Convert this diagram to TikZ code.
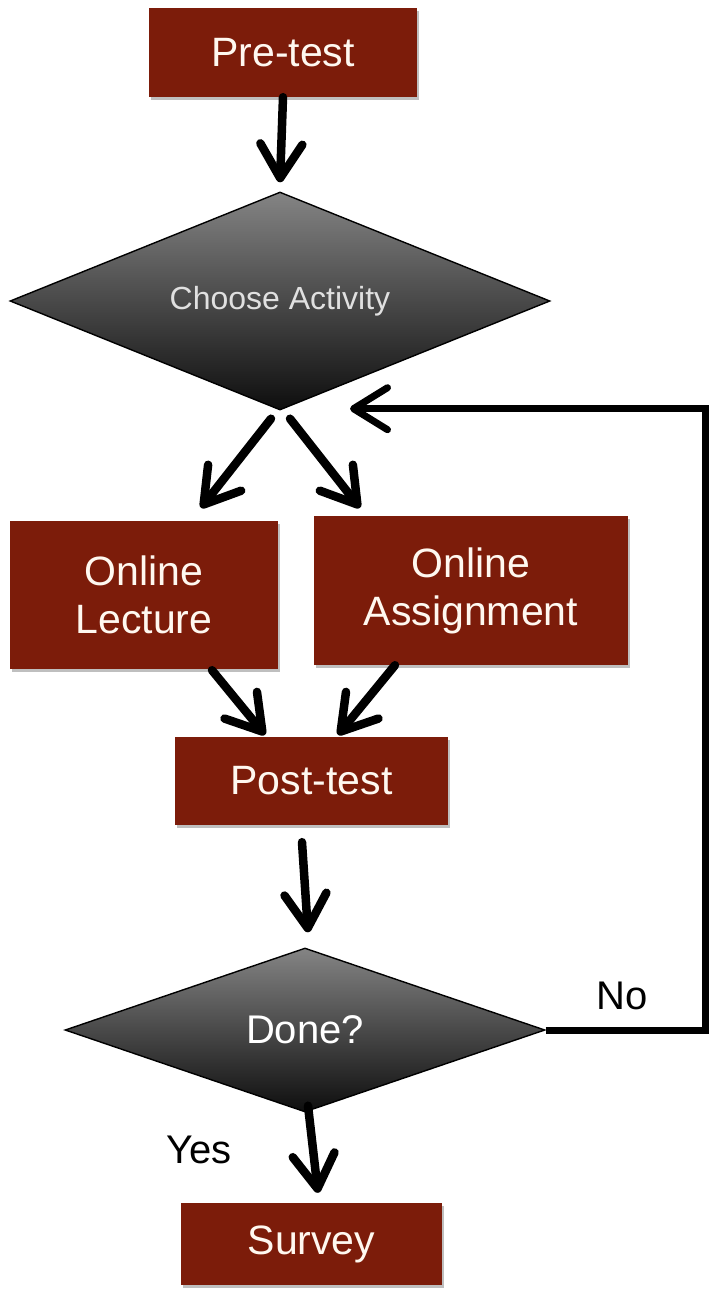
\documentclass[tikz,border=0pt]{standalone}
\usepackage{fontspec}
\setmainfont{Liberation Sans}
\usetikzlibrary{arrows.meta,shapes.geometric,shadows}
\definecolor{boxred}{RGB}{124,28,10}
\definecolor{boxtext}{RGB}{255,248,240}
\definecolor{dtop}{RGB}{132,132,132}
\definecolor{dbot}{RGB}{14,14,14}
\begin{document}
\begin{tikzpicture}[x=1pt,y=-1pt,
  stepbox/.style={rectangle, fill=boxred, text=boxtext, inner sep=0pt, align=center,
    font=\fontsize{41}{48}\selectfont,
    drop shadow={shadow xshift=2pt, shadow yshift=-3pt, opacity=0.25, fill=black}},
  decision/.style={diamond, draw=black, line width=1.4pt, top color=dtop, bottom color=dbot,
    inner sep=0pt, text=white, font=\fontsize{40}{46}\selectfont},
  arr/.style={line width=8.5pt, line cap=round, -{Straight Barb[length=34pt,width=42pt,round]}},
  fbline/.style={line width=7pt},
  lbl/.style={text=black, font=\fontsize{40}{46}\selectfont, inner sep=0pt}]
\useasboundingbox (0,0) rectangle (709,1291);
\fill[white] (0,0) rectangle (709,1291);

\node[stepbox, minimum width=268pt, minimum height=89pt] (pre) at (283,52.5) {Pre-test};
\node[decision, aspect=2.48, minimum width=540pt, minimum height=218pt,
      text=black!12, font=\fontsize{32}{38}\selectfont] (choose) at (280,301) {Choose Activity};
\node[stepbox, minimum width=268pt, minimum height=148pt] (lec) at (144,595) {Online\\Lecture};
\node[stepbox, minimum width=314pt, minimum height=149pt] (asg) at (471,590.5) {Online\\Assignment};
\node[stepbox, minimum width=273pt, minimum height=88pt] (post) at (311.5,781) {Post-test};
\node[decision, aspect=2.93, minimum width=480pt, minimum height=164pt] (done) at (305,1030) {Done?};
\node[stepbox, minimum width=261pt, minimum height=82pt] (survey) at (311.5,1244) {Survey};

\node[lbl] (no) at (622,996) {No};
\node[lbl] (yes) at (199,1150) {Yes};

\coordinate (fbx) at (705,0);

\draw[arr] (pre.south) -- ([yshift=9pt]choose.north);
\draw[arr] ([xshift=-9pt,yshift=-8pt]choose.south) -- ([xshift=57pt,yshift=13pt]lec.north);
\draw[arr] ([xshift=10pt,yshift=-8pt]choose.south) -- ([xshift=-111pt,yshift=8pt]asg.north);
\draw[arr] ([xshift=68pt,yshift=-1pt]lec.south) -- ([xshift=-46.5pt,yshift=2pt]post.north);
\draw[arr] ([xshift=-76pt]asg.south) -- ([xshift=26.5pt,yshift=2pt]post.north);
\draw[arr] ([xshift=-9.5pt,yshift=-17pt]post.south) -- ([xshift=3pt,yshift=15pt]done.north);
\draw[arr] ([xshift=3pt,yshift=7pt]done.south) -- ([xshift=6.5pt,yshift=10pt]survey.north);
\draw[fbline, line join=miter] (done.east) -- (done.east -| fbx) -- ([yshift=2pt]fbx |- choose.south) -- ([yshift=2pt,xshift=150pt]choose.south);
\draw[arr, line width=7pt] ([yshift=2pt,xshift=150pt]choose.south) -- ([xshift=70pt,yshift=2pt]choose.south);
\end{tikzpicture}
\end{document}
